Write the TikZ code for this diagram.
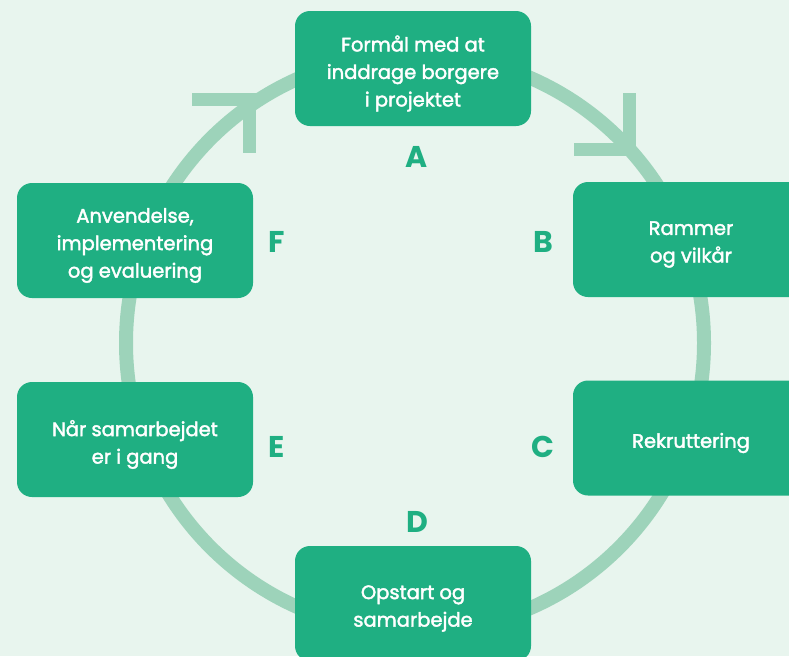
\documentclass[tikz,border=0pt]{standalone}
\usepackage{fontspec}
\setmainfont{Poppins}
\newfontfamily\boxfont{Poppins}[FakeBold=2]
\newfontfamily\letterfont{Poppins}
\definecolor{bg}{HTML}{E8F5EE}
\definecolor{boxgreen}{HTML}{1FAF82}
\definecolor{ringgreen}{HTML}{9DD3BA}
\begin{document}
\begin{tikzpicture}[x=1pt,y=-1pt,
  stagebox/.style={fill=boxgreen, rounded corners=15pt, minimum width=236pt, minimum height=115pt,
    inner sep=0pt},
  boxtext/.style={inner sep=0pt, text=white, align=center, font=\boxfont\fontsize{19.5}{27.5}\selectfont, yshift=-5pt},
  letterlab/.style={text=boxgreen, font=\letterfont\fontsize{30}{30}\selectfont\bfseries, inner sep=0pt},
  ring/.style={draw=ringgreen, line width=14pt},
  chevron/.style={draw=ringgreen, line width=13pt, line join=miter, line cap=butt}]
\fill[bg] (0,0) rectangle (789,656);
\useasboundingbox (0,0) rectangle (789,656);
\draw[ring] (415,343) circle[radius=289pt];
\coordinate (arrowL1) at (192,99.5);
\coordinate (arrowL2) at (249.5,99.5);
\coordinate (arrowL3) at (249.5,153);
\draw[chevron] (arrowL1) -- (arrowL2) -- (arrowL3);
\coordinate (arrowR1) at (629,93);
\coordinate (arrowR2) at (629,149.5);
\coordinate (arrowR3) at (574,149.5);
\draw[chevron] (arrowR1) -- (arrowR2) -- (arrowR3);
\node[stagebox] (a) at (413,68.5) {};
\node[stagebox] (b) at (691,239.5) {};
\node[stagebox] (c) at (691,438) {};
\node[stagebox] (d) at (413,603.5) {};
\node[stagebox] (e) at (135,439.5) {};
\node[stagebox] (f) at (135,240.5) {};
\node[boxtext] (ta) at (a.center) {Formål med at\\inddrage borgere\\i projektet};
\node[boxtext] (tb) at (b.center) {Rammer\\og vilkår};
\node[boxtext] (tc) at (c.center) {Rekruttering};
\node[boxtext] (td) at (d.center) {Opstart og\\samarbejde};
\node[boxtext] (te) at (e.center) {Når samarbejdet\\er i gang};
\node[boxtext] (tf) at (f.center) {Anvendelse,\\implementering\\og evaluering};
\node[letterlab] (la) at (417,157) {A};
\node[letterlab] (lb) at (543,242) {B};
\node[letterlab] (lc) at (543,447) {C};
\node[letterlab] (ld) at (417,522) {D};
\node[letterlab] (le) at (277,447) {E};
\node[letterlab] (lf) at (277,242) {F};
\end{tikzpicture}
\end{document}
